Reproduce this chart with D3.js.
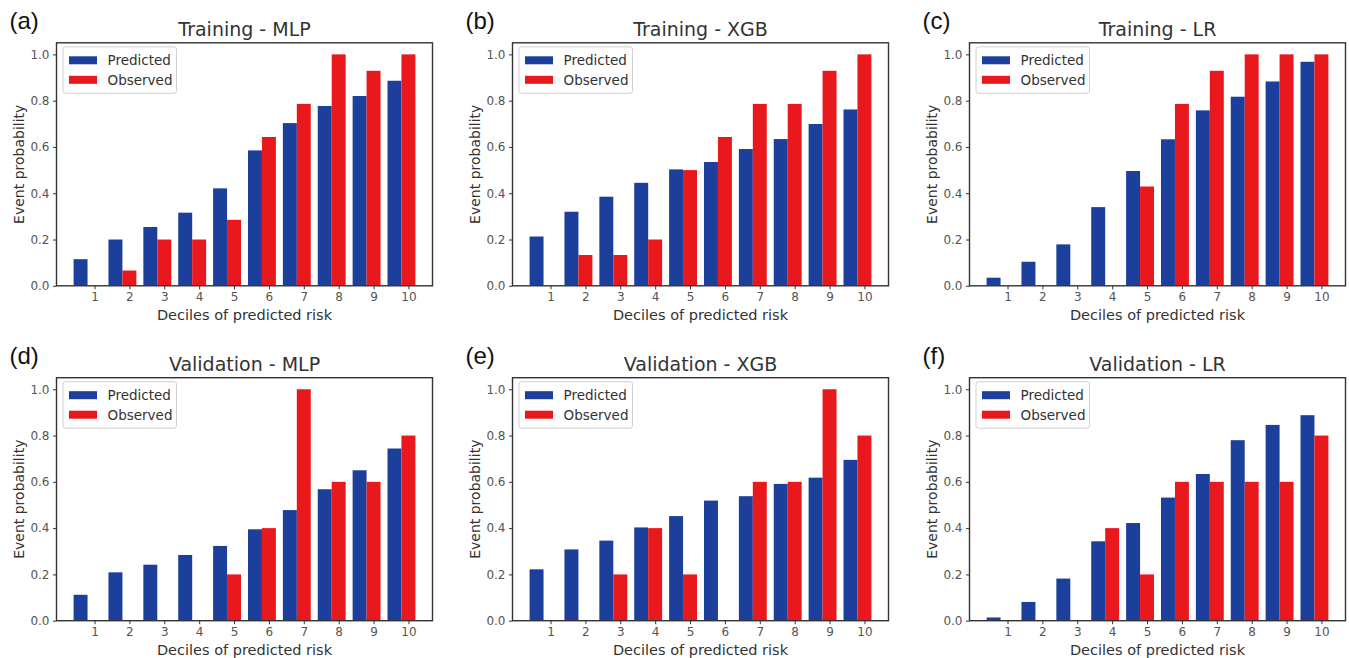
<!DOCTYPE html>
<html>
<head>
<meta charset="utf-8">
<script src="https://cdn.jsdelivr.net/npm/d3@7"></script>
<style>
  html, body { margin: 0; padding: 0; background: #fff; }
  svg { display: block; }
  text { font-family: "DejaVu Sans", sans-serif; }
</style>
</head>
<body>
<svg id="chart" width="1349" height="658"></svg>
<script>
// ---- data ----
const deciles = [1, 2, 3, 4, 5, 6, 7, 8, 9, 10];
const yTicks = [0.0, 0.2, 0.4, 0.6, 0.8, 1.0];
const seriesNames = ["Predicted", "Observed"];
const panelLabels = ["(a)", "(b)", "(c)", "(d)", "(e)", "(f)"];
const panelTitles = ["Training - MLP", "Training - XGB", "Training - LR",
                     "Validation - MLP", "Validation - XGB", "Validation - LR"];

const trainMLPPred = [0.115, 0.200, 0.254, 0.316, 0.421, 0.585, 0.703, 0.777, 0.820, 0.886];
const trainMLPObs  = [0.000, 0.066, 0.200, 0.200, 0.285, 0.643, 0.786, 1.000, 0.929, 1.000];
const trainXGBPred = [0.213, 0.320, 0.385, 0.445, 0.503, 0.535, 0.591, 0.634, 0.699, 0.762];
const trainXGBObs  = [0.000, 0.133, 0.133, 0.200, 0.500, 0.643, 0.786, 0.786, 0.929, 1.000];
const trainLRPred  = [0.035, 0.104, 0.179, 0.340, 0.496, 0.633, 0.758, 0.817, 0.883, 0.968];
const trainLRObs   = [0.000, 0.000, 0.000, 0.000, 0.429, 0.786, 0.929, 1.000, 1.000, 1.000];
const validMLPPred = [0.112, 0.209, 0.242, 0.284, 0.323, 0.395, 0.478, 0.568, 0.650, 0.744];
const validMLPObs  = [0.000, 0.000, 0.000, 0.000, 0.200, 0.400, 1.000, 0.600, 0.600, 0.800];
const validXGBPred = [0.222, 0.308, 0.346, 0.403, 0.452, 0.519, 0.538, 0.591, 0.618, 0.695];
const validXGBObs  = [0.000, 0.000, 0.200, 0.400, 0.200, 0.000, 0.600, 0.600, 1.000, 0.800];
const validLRPred  = [0.014, 0.081, 0.182, 0.343, 0.422, 0.532, 0.634, 0.780, 0.846, 0.888];
const validLRObs   = [0.000, 0.000, 0.000, 0.400, 0.200, 0.600, 0.600, 0.600, 0.600, 0.800];

const predicted = [trainMLPPred, trainXGBPred, trainLRPred, validMLPPred, validXGBPred, validLRPred];
const observed  = [trainMLPObs, trainXGBObs, trainLRObs, validMLPObs, validXGBObs, validLRObs];

// ---- layout / style ----
const colors = ["#1b3f9b", "#e8181c"];
const colLefts = [56.5, 512.5, 969.5];
const rowTops = [42.8, 377.7];
const plotW = 376, plotH = 243;
const barW = 0.4;

const svg = d3.select("#chart");

for (let p = 0; p < 6; p++) {
  const col = p % 3, row = Math.floor(p / 3);
  const left = colLefts[col], top = rowTops[row];
  const g = svg.append("g");

  const x = d3.scaleLinear().domain([0.4 - 0.49, 10.2 + 0.49]).range([left, left + plotW]);
  const y = d3.scaleLinear().domain([0, 1.05]).range([top + plotH, top]);

  // bars
  const rows = deciles.map((d, i) => ({ d, pred: predicted[p][i], obs: observed[p][i] }));
  g.selectAll("rect.pred").data(rows).join("rect")
    .attr("class", "pred")
    .attr("x", r => x(r.d - 1.5 * barW))
    .attr("width", r => x(r.d - 0.5 * barW) - x(r.d - 1.5 * barW))
    .attr("y", r => y(r.pred))
    .attr("height", r => y(0) - y(r.pred))
    .attr("fill", colors[0]);
  g.selectAll("rect.obs").data(rows).join("rect")
    .attr("class", "obs")
    .attr("x", r => x(r.d - 0.5 * barW))
    .attr("width", r => x(r.d + 0.5 * barW) - x(r.d - 0.5 * barW))
    .attr("y", r => y(r.obs))
    .attr("height", r => y(0) - y(r.obs))
    .attr("fill", colors[1]);

  // axes
  const yAxis = g.append("g").attr("transform", `translate(${left},0)`)
    .call(d3.axisLeft(y).tickValues(yTicks).tickFormat(d3.format(".1f")).tickSize(3.5).tickPadding(3.5));
  const xAxis = g.append("g").attr("transform", `translate(0,${top + plotH})`)
    .call(d3.axisBottom(x).tickValues(deciles).tickFormat(d3.format("d")).tickSize(3.5).tickPadding(3.5));
  [yAxis, xAxis].forEach(a => {
    a.select(".domain").remove();
    a.selectAll(".tick line").attr("stroke", "#333").attr("stroke-width", 1);
    a.selectAll(".tick text").attr("fill", "#555").style("font-size", "12px")
      .style("font-family", "'DejaVu Sans', sans-serif");
  });

  // frame
  g.append("rect").attr("x", left).attr("y", top).attr("width", plotW).attr("height", plotH)
    .attr("fill", "none").attr("stroke", "#333").attr("stroke-width", 1.4);

  // title
  g.append("text").attr("x", left + plotW / 2).attr("y", top - 7)
    .attr("text-anchor", "middle").attr("fill", "#333").style("font-size", "19px")
    .text(panelTitles[p]);

  // axis labels
  g.append("text").attr("x", left + plotW / 2).attr("y", top + plotH + 34)
    .attr("text-anchor", "middle").attr("fill", "#333").style("font-size", "14.5px")
    .text("Deciles of predicted risk");
  g.append("text")
    .attr("transform", `translate(${left - 33},${top + plotH / 2}) rotate(-90)`)
    .attr("text-anchor", "middle").attr("fill", "#333").style("font-size", "14px")
    .text("Event probability");

  // panel label
  g.append("text").attr("x", left - 47).attr("y", top - 14)
    .attr("fill", "#111").style("font-family", "'Liberation Sans', Arial, sans-serif")
    .style("font-size", "24px").text(panelLabels[p]);

  // legend
  const lg = g.append("g").attr("transform", `translate(${left + 6.5},${top + 4})`);
  lg.append("rect").attr("width", 113.5).attr("height", 46.5).attr("rx", 2.5)
    .attr("fill", "#fff").attr("fill-opacity", 0.85).attr("stroke", "#d0d0d0").attr("stroke-width", 1);
  seriesNames.forEach((name, i) => {
    lg.append("rect").attr("x", 6).attr("y", 9.5 + i * 19.5).attr("width", 28).attr("height", 8)
      .attr("fill", colors[i]);
    lg.append("text").attr("x", 44.5).attr("y", 13.7 + i * 19.5).attr("dy", "0.35em")
      .attr("fill", "#333").style("font-size", "13.5px").text(name);
  });
}
</script>
</body>
</html>
